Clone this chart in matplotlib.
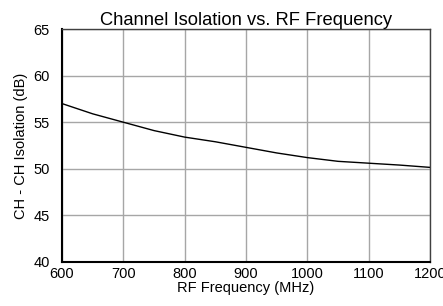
import numpy as np
import matplotlib
matplotlib.use('Agg')
import matplotlib.pyplot as plt

plt.rcParams['font.family'] = ['Liberation Sans', 'DejaVu Sans']

# data
freq_mhz = [600, 650, 700, 750, 800, 850, 900, 950, 1000, 1050, 1100, 1150, 1200]
isolation_db = [57.0, 55.9, 55.0, 54.1, 53.4, 52.9, 52.3, 51.7, 51.2, 50.8, 50.6, 50.4, 50.15]

x_ticks = [600, 700, 800, 900, 1000, 1100, 1200]
y_ticks = [40, 45, 50, 55, 60, 65]

fig = plt.figure(figsize=(4.43, 3.06), dpi=100)
ax = fig.add_axes([0.14, 0.144, 0.831, 0.761])

ax.plot(freq_mhz, isolation_db, color='k', lw=1.0)

ax.set_xlim(600, 1200)
ax.set_ylim(40, 65)
ax.set_xticks(x_ticks)
ax.set_yticks(y_ticks)
ax.grid(True, color='#a6a6a6', lw=1.0)
ax.tick_params(length=0, labelsize=10.5)
ax.tick_params(axis='y', pad=9)
ax.tick_params(axis='x', pad=4)

for s in ['left', 'bottom']:
    ax.spines[s].set_linewidth(1.5)
for s in ['top', 'right']:
    ax.spines[s].set_linewidth(1.0)
    ax.spines[s].set_color('#404040')

ax.set_title('Channel Isolation vs. RF Frequency', fontsize=13.2, pad=1)
ax.set_xlabel('RF Frequency (MHz)', fontsize=10.5, labelpad=0)
ax.set_ylabel('CH - CH Isolation (dB)', fontsize=10.5, labelpad=4)

fig.savefig('out.png', dpi=100)
